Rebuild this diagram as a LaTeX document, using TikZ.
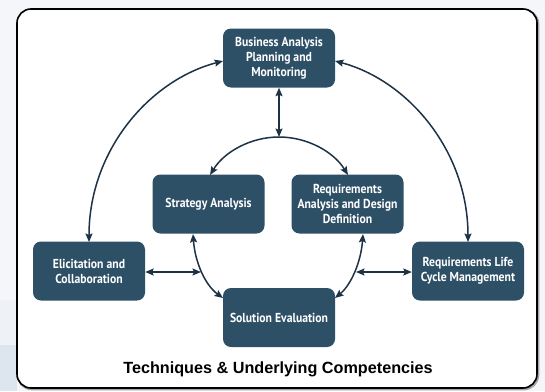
\documentclass[tikz,border=0pt]{standalone}
\usepackage{fontspec}
\usetikzlibrary{arrows.meta}
\newfontfamily\boxfont[FakeStretch=0.9]{PT Sans Bold}
\newfontfamily\titlefont{Liberation Sans Bold}
\definecolor{boxblue}{HTML}{2E5067}
\definecolor{arrowc}{HTML}{1E3246}
\definecolor{pagebg}{HTML}{F4F6FA}
\definecolor{bandA}{HTML}{EEF1F5}
\definecolor{bandB}{HTML}{DDE5EE}
\tikzset{
  procbox/.style={fill=boxblue, rounded corners=8pt, minimum width=112pt, minimum height=59pt,
    text=white, align=center, inner sep=2pt, font=\boxfont\fontsize{13}{15}\selectfont},
  conn/.style={draw=arrowc, line width=1.5pt, {Stealth[length=8.5pt,width=7pt,inset=1.5pt]}-{Stealth[length=8.5pt,width=7pt,inset=1.5pt]}}
}
\begin{document}
\begin{tikzpicture}[x=1pt,y=-1pt]
\useasboundingbox (0,0) rectangle (545,391);
\fill[pagebg] (0,0) rectangle (545,391);
\fill[bandA] (0,300) rectangle (17,345);
\fill[bandB] (0,345) rectangle (17,391);
% frame
\draw[gray!70, line width=2.6pt, rounded corners=14pt] (18,10) rectangle (538,389);
\draw[black, fill=white, line width=1.6pt, rounded corners=14pt] (17,9) rectangle (537,388);

\node[procbox] (bapm) at (279,58) {Business Analysis\\Planning and\\Monitoring};
\node[procbox] (sa) at (208.5,204) {Strategy Analysis};
\node[procbox] (radd) at (347.5,204) {Requirements\\Analysis and Design\\Definition};
\node[procbox] (elic) at (89,271) {Elicitation and\\Collaboration};
\node[procbox] (rlcm) at (468,271) {Requirements Life\\Cycle Management};
\node[procbox] (se) at (279,317.5) {Solution Evaluation};

\node[font=\titlefont\fontsize{16.2}{18}\selectfont] (title) at (278,369) {Techniques \& Underlying Competencies};

\coordinate (apex) at (279,137);
\coordinate (satop) at (210,175);
\coordinate (raddtop) at (348,175);
\coordinate (sabot) at (193,234);
\coordinate (raddbot) at (363,234);
\coordinate (seleft) at (223,298);
\coordinate (seright) at (335,298);
\coordinate (larc) at (201,272);
\coordinate (rarc) at (356,272);
\coordinate (elictop) at (89,242);
\coordinate (rlcmtop) at (468,242);
\coordinate (bapmw) at (223,61);
\coordinate (bapme) at (335,61);

% outer arcs
\draw[conn] (elictop) .. controls (89,150) and (150,80) .. (bapmw);
\draw[conn] (rlcmtop) .. controls (468,150) and (407,80) .. (bapme);
% vertical
\draw[conn] (bapm.south) -- (apex);
% small top arc
\draw[conn] (satop) .. controls (224.5,151.5) and (251,137) .. (apex) .. controls (307,137) and (333.5,151.5) .. (raddtop);
% lower arcs
\draw[conn] (sabot) .. controls (195,262) and (205,285) .. (seleft);
\draw[conn] (raddbot) .. controls (361,262) and (351,285) .. (seright);
% horizontal
\draw[conn] (elic.east |- larc) -- (larc);
\draw[conn] (rarc) -- (rlcm.west |- rarc);
\end{tikzpicture}
\end{document}
